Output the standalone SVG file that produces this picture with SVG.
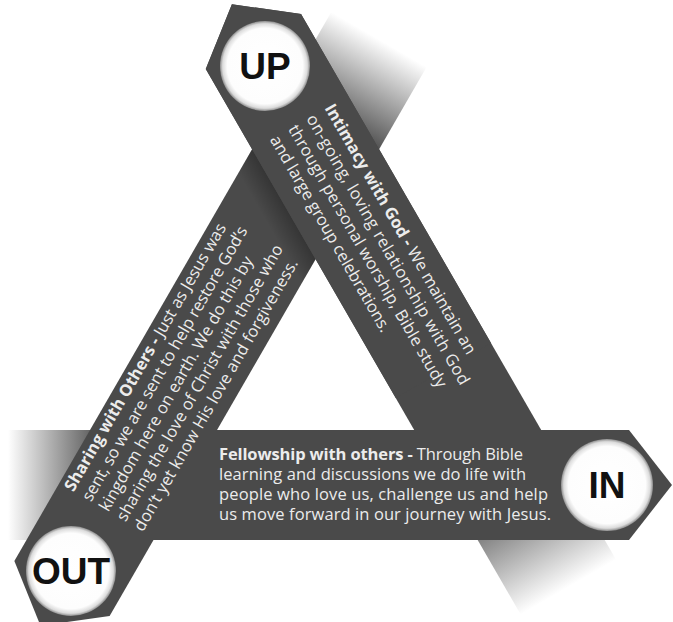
<svg xmlns="http://www.w3.org/2000/svg" width="673" height="622" viewBox="0 0 673 622">
<defs>
<style>
.band{fill:#4a4a4a}
.txt{font-family:'Open Sans','Noto Sans','Liberation Sans',sans-serif;font-size:16.5px;fill:#ececec}
.b{font-weight:700}
.lbl{font-family:'Liberation Sans',Arial,sans-serif;font-weight:700;font-size:37px;fill:#111;text-anchor:middle}
.circ{fill:url(#circ)}
</style>
<linearGradient id="upFade" gradientUnits="userSpaceOnUse" x1="505" y1="0" x2="630" y2="0">
<stop offset="0" stop-color="#4a4a4a"/><stop offset="1" stop-color="#4a4a4a" stop-opacity="0"/>
</linearGradient>
<linearGradient id="outFade" gradientUnits="userSpaceOnUse" x1="534" y1="0" x2="634" y2="0">
<stop offset="0" stop-color="#4a4a4a"/><stop offset="1" stop-color="#4a4a4a" stop-opacity="0"/>
</linearGradient>
<linearGradient id="inFade" gradientUnits="userSpaceOnUse" x1="8" y1="0" x2="105" y2="0">
<stop offset="0" stop-color="#4a4a4a" stop-opacity="0"/><stop offset="1" stop-color="#4a4a4a"/>
</linearGradient>
<radialGradient id="circ">
<stop offset="0" stop-color="#ffffff"/><stop offset="0.84" stop-color="#fdfdfd"/><stop offset="0.94" stop-color="#dcdcdc"/><stop offset="1" stop-color="#8c8c8c"/>
</radialGradient>
<linearGradient id="shade" x1="0" y1="0" x2="0" y2="1">
<stop offset="0" stop-color="#000" stop-opacity="0.28"/><stop offset="1" stop-color="#000" stop-opacity="0"/>
</linearGradient>
<clipPath id="outClip">
<polygon transform="translate(62 588.5) rotate(-60)" points="-43,0 0,-55 640,-55 640,55 0,55"/>
</clipPath>
</defs>

<!-- UP band, full length (fades out under the IN band) -->
<g id="band-up-base" transform="translate(253.4 41.5) rotate(60)">
<polygon points="-43,0 0,-55 650,-55 650,55 0,55" fill="url(#upFade)"/>
</g>

<!-- IN band -->
<g id="band-in">
<polygon points="0,430 629,430 672,485 629,540 0,540" fill="url(#inFade)"/>
<text class="txt" x="219" y="460" textLength="304" lengthAdjust="spacing"><tspan class="b">Fellowship with others -</tspan> Through Bible</text>
<text class="txt" x="219" y="480" textLength="307" lengthAdjust="spacing">learning and discussions we do life with</text>
<text class="txt" x="219" y="500" textLength="329" lengthAdjust="spacing">people who love us, challenge us and help</text>
<text class="txt" x="219" y="520" textLength="332" lengthAdjust="spacing">us move forward in our journey with Jesus.</text>
</g>
<g id="node-in">
<circle class="circ" cx="607" cy="485" r="46"/>
<text class="lbl" x="607" y="498">IN</text>
</g>

<!-- OUT band -->
<g id="band-out" transform="translate(62 588.5) rotate(-60)">
<polygon points="-43,0 0,-55 640,-55 640,55 0,55" fill="url(#outFade)"/>
<text class="txt" x="89" y="-38" textLength="306" lengthAdjust="spacing"><tspan class="b">Sharing with Others -</tspan> Just as Jesus was</text>
<text class="txt" x="89" y="-18" textLength="314" lengthAdjust="spacing">sent, so we are sent to help restore God’s</text>
<text class="txt" x="89" y="2" textLength="291" lengthAdjust="spacing">kingdom here on earth. We do this by</text>
<text class="txt" x="89" y="22" textLength="316" lengthAdjust="spacing">sharing the love of Christ with those who</text>
<text class="txt" x="89" y="42" textLength="311" lengthAdjust="spacing">don’t yet know His love and forgiveness.</text>
</g>
<g id="node-out">
<circle class="circ" cx="71" cy="571" r="45"/>
<text class="lbl" x="71" y="584">OUT</text>
</g>

<!-- shadow of UP band on OUT band -->
<g clip-path="url(#outClip)">
<rect transform="translate(253.4 41.5) rotate(60)" x="40" y="55" width="240" height="24" fill="url(#shade)"/>
</g>

<!-- UP band, top part on top of OUT band -->
<g id="band-up" transform="translate(253.4 41.5) rotate(60)">
<polygon class="band" points="-43,0 0,-55 380,-55 380,55 0,55"/>
<text class="txt" x="93" y="-28" textLength="286" lengthAdjust="spacing"><tspan class="b">Intimacy with God -</tspan> We maintain an</text>
<text class="txt" x="93" y="-7" textLength="309" lengthAdjust="spacing">on-going, loving relationship with God</text>
<text class="txt" x="93" y="14" textLength="300" lengthAdjust="spacing">through personal worship, Bible study</text>
<text class="txt" x="93" y="35" textLength="224" lengthAdjust="spacing">and large group celebrations.</text>
</g>
<g id="node-up">
<circle class="circ" cx="265" cy="66" r="45"/>
<text class="lbl" x="265" y="79">UP</text>
</g>
</svg>
